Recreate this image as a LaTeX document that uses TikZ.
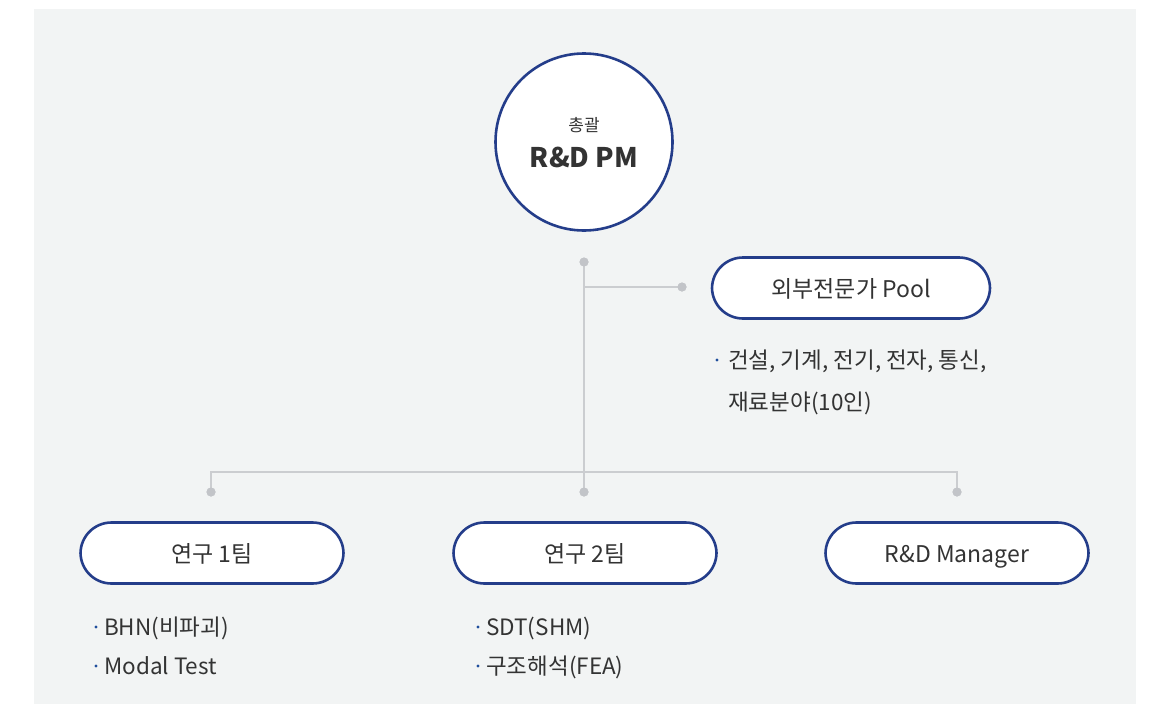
\documentclass[tikz,border=0pt]{standalone}
\usepackage{fontspec}
\setmainfont{Noto Sans CJK KR}
\usetikzlibrary{calc}
\definecolor{panel}{HTML}{F2F4F4}
\definecolor{navy}{HTML}{243D8A}
\definecolor{wire}{HTML}{CBCDD0}
\definecolor{knob}{HTML}{C2C4C8}
\definecolor{ink}{HTML}{333333}
\definecolor{dotblue}{HTML}{1F4E9C}
\tikzset{
  x=1pt, y=-1pt,
  pill/.style={draw=navy, line width=2.6pt, fill=white, rounded corners=31pt,
    minimum width=263pt, minimum height=61pt, inner sep=0pt},
  pilltext/.style={anchor=base, inner sep=0pt, text=ink, font=\fontsize{23}{27}\selectfont},
  knobdot/.style={circle, fill=knob, minimum size=9pt, inner sep=0pt},
  wireline/.style={draw=wire, line width=1.8pt},
  note/.style={anchor=base west, inner sep=0pt, text=ink, font=\fontsize{22.5}{26}\selectfont},
  bul/.style={fill=dotblue},
}
\begin{document}
\begin{tikzpicture}
\useasboundingbox (0,0) rectangle (1155,704);
\fill[panel] (34,9) rectangle (1136,704);

% head circle
\node[circle, draw=navy, line width=2.6pt, fill=white, minimum size=177pt, inner sep=0pt] (pm) at (584,142) {};
\node[text=ink, font=\fontsize{17}{19}\selectfont] (pmt) at (584,125) {총괄};
\node[text=ink, font=\fontsize{27}{30}\selectfont\bfseries] (pmn) at (584,157) {R\&D PM};

% connector knobs and joints
\node[knobdot] (d0) at (584,262) {};
\node[knobdot] (d1) at (682,287) {};
\node[knobdot] (dA) at (211,492) {};
\node[knobdot] (dB) at (584,492) {};
\node[knobdot] (dC) at (957,492) {};
\coordinate (j1) at (584,287);
\coordinate (jA) at (211,472);
\coordinate (jC) at (957,472);

\draw[wireline] (d0.center) -- (dB.center);
\draw[wireline] (j1) -- (d1.center);
\draw[wireline] (dA.center) -- (jA) -- (jC) -- (dC.center);
\foreach \k in {d0,d1,dA,dB,dC} \node[knobdot] at (\k) {};

% external pool
\node[pill, minimum width=278pt] (pool) at (851,288) {};
\node[pilltext] (poolt) at ($(pool.center)+(0,9)$) {외부전문가 Pool};
\fill[bul] (717,360) circle (1.6pt);
\node[note] (pooln1) at (728,368) {건설, 기계, 전기, 전자, 통신,};
\node[note] (pooln2) at (728,410) {재료분야(10인)};

% teams
\node[pill] (t1) at (212,553) {};
\node[pill] (t2) at (585,553) {};
\node[pill] (t3) at (957,553) {};
\node[pilltext] (t1t) at ($(t1.center)+(0,9)$) {연구 1팀};
\node[pilltext] (t2t) at ($(t2.center)+(0,9)$) {연구 2팀};
\node[pilltext] (t3t) at ($(t3.center)+(0,9)$) {R\&D Manager};

\fill[bul] (96,627) circle (1.6pt);
\node[note] (t1a) at (104,635) {BHN(비파괴)};
\fill[bul] (96,666) circle (1.6pt);
\node[note] (t1b) at (104,674) {Modal Test};

\fill[bul] (478,627) circle (1.6pt);
\node[note] (t2a) at (486,635) {SDT(SHM)};
\fill[bul] (478,666) circle (1.6pt);
\node[note] (t2b) at (486,674) {구조해석(FEA)};
\end{tikzpicture}
\end{document}
